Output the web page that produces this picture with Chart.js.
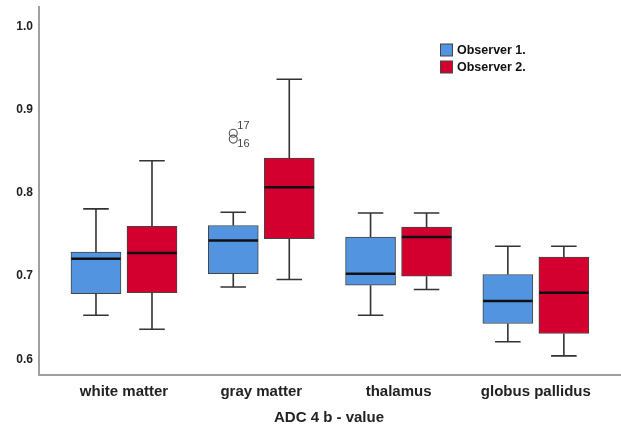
<!DOCTYPE html>
<html>
<head>
<meta charset="utf-8">
<script src="https://cdn.jsdelivr.net/npm/chart.js@4.4.0/dist/chart.umd.min.js"></script>
<style>
  html, body { margin: 0; padding: 0; background: #fff; }
  #wrap { width: 621px; height: 428px; position: relative; }
</style>
</head>
<body>
<div id="wrap"><canvas id="chart"></canvas></div>
<script>
const categories = ['white matter', 'gray matter', 'thalamus', 'globus pallidus'];
const seriesNames = ['Observer 1.', 'Observer 2.'];

// Observer 1.
const obs1Min = [0.653, 0.687, 0.653, 0.621];
const obs1Q1 = [0.679, 0.703, 0.689, 0.643];
const obs1Med = [0.721, 0.743, 0.703, 0.670];
const obs1Q3 = [0.729, 0.761, 0.747, 0.702];
const obs1Max = [0.781, 0.777, 0.776, 0.736];

// Observer 2.
const obs2Min = [0.636, 0.696, 0.684, 0.604];
const obs2Q1 = [0.680, 0.745, 0.700, 0.631];
const obs2Med = [0.728, 0.807, 0.747, 0.680];
const obs2Q3 = [0.760, 0.842, 0.759, 0.723];
const obs2Max = [0.839, 0.937, 0.776, 0.736];

// outliers (observer 1, gray matter)
const outlierCat = [1, 1];
const outlierVals = [0.872, 0.865];
const outlierIds = ['17', '16'];

const yTicks = [0.6, 0.7, 0.8, 0.9, 1.0];
const xTitle = 'ADC 4 b - value';

const blue = '#5394e1';
const red = '#d3002f';
const shift = 0.204;

const boxData = (q1, q3, off) => q1.map((v, i) => ({ x: i + off, y: [v, q3[i]] }));

const stats = [
  { min: obs1Min, med: obs1Med, max: obs1Max, q1: obs1Q1, q3: obs1Q3, off: -shift, color: blue },
  { min: obs2Min, med: obs2Med, max: obs2Max, q1: obs2Q1, q3: obs2Q3, off: shift, color: red }
];

const boxPlugin = {
  id: 'boxParts',
  afterDatasetsDraw(chart) {
    const { ctx, scales: { x, y } } = chart;
    ctx.save();

    // x axis line runs to the right edge
    ctx.strokeStyle = '#a0a0a0';
    ctx.lineWidth = 2;
    ctx.beginPath();
    ctx.moveTo(x.right - 1, y.bottom);
    ctx.lineTo(chart.width, y.bottom);
    ctx.stroke();

    stats.forEach(s => {
      s.min.forEach((mn, i) => {
        const cx = x.getPixelForValue(i + s.off);
        const half = x.getPixelForValue(i + s.off + 0.093) - cx;
        const bhalf = x.getPixelForValue(i + s.off + 0.18) - cx;
        ctx.strokeStyle = '#333';
        ctx.lineWidth = 1.6;
        ctx.beginPath();
        ctx.moveTo(cx, y.getPixelForValue(s.q3[i]));
        ctx.lineTo(cx, y.getPixelForValue(s.max[i]));
        ctx.moveTo(cx - half, y.getPixelForValue(s.max[i]));
        ctx.lineTo(cx + half, y.getPixelForValue(s.max[i]));
        ctx.moveTo(cx, y.getPixelForValue(s.q1[i]));
        ctx.lineTo(cx, y.getPixelForValue(mn));
        ctx.moveTo(cx - half, y.getPixelForValue(mn));
        ctx.lineTo(cx + half, y.getPixelForValue(mn));
        ctx.stroke();
        ctx.strokeStyle = '#111';
        ctx.lineWidth = 2.5;
        ctx.beginPath();
        ctx.moveTo(cx - bhalf, y.getPixelForValue(s.med[i]));
        ctx.lineTo(cx + bhalf, y.getPixelForValue(s.med[i]));
        ctx.stroke();
      });
    });

    // outlier labels
    ctx.fillStyle = '#444';
    ctx.font = '11px "Liberation Sans", Arial, sans-serif';
    ctx.textBaseline = 'middle';
    outlierVals.forEach((v, i) => {
      const px = x.getPixelForValue(outlierCat[i] - shift);
      const py = y.getPixelForValue(v);
      ctx.fillText(outlierIds[i], px + 4, py + (i === 0 ? -7 : 5));
    });

    // legend
    ctx.font = 'bold 12.5px "Liberation Sans", Arial, sans-serif';
    ctx.textBaseline = 'middle';
    [blue, red].forEach((c, i) => {
      const ly = 50 + i * 17;
      ctx.fillStyle = c;
      ctx.fillRect(440.5, ly - 6, 12, 12);
      ctx.strokeStyle = '#444';
      ctx.lineWidth = 1;
      ctx.strokeRect(440.5, ly - 6, 12, 12);
      ctx.fillStyle = '#111';
      ctx.fillText(seriesNames[i], 457, ly + 0.5);
    });

    // x title
    ctx.font = 'bold 15px "Liberation Sans", Arial, sans-serif';
    ctx.fillStyle = '#222';
    ctx.textAlign = 'center';
    ctx.fillText(xTitle, 329, 418);
    ctx.restore();
  }
};

new Chart(document.getElementById('chart'), {
  type: 'bar',
  data: {
    datasets: [
      {
        label: seriesNames[0],
        data: boxData(obs1Q1, obs1Q3, -shift),
        backgroundColor: blue,
        borderColor: '#444',
        borderWidth: 1,
        borderSkipped: false,
        barThickness: 50,
        grouped: false
      },
      {
        label: seriesNames[1],
        data: boxData(obs2Q1, obs2Q3, shift),
        backgroundColor: red,
        borderColor: '#444',
        borderWidth: 1,
        borderSkipped: false,
        barThickness: 50,
        grouped: false
      },
      {
        type: 'scatter',
        label: 'outliers',
        data: outlierVals.map((v, i) => ({ x: outlierCat[i] - shift, y: v })),
        pointStyle: 'circle',
        pointRadius: 4,
        borderColor: '#555',
        borderWidth: 1.1,
        backgroundColor: 'rgba(0,0,0,0)'
      }
    ]
  },
  options: {
    responsive: true,
    maintainAspectRatio: false,
    animation: false,
    layout: { padding: { top: 7, right: 0, left: 0, bottom: 0 } },
    plugins: {
      legend: { display: false },
      tooltip: { enabled: false }
    },
    scales: {
      x: {
        type: 'linear',
        offset: false,
        min: -0.619,
        max: 3.583,
        grid: { display: false, drawTicks: false },
        border: { display: true, color: '#a0a0a0', width: 2 },
        afterBuildTicks: s => { s.ticks = categories.map((c, i) => ({ value: i })); },
        afterFit: s => { s.height = 53; s.paddingLeft = 0; s.paddingRight = 0; },
        ticks: {
          padding: 8,
          color: '#222',
          font: { family: '"Liberation Sans", Arial, sans-serif', size: 15, weight: 'bold' },
          callback: v => categories[v]
        }
      },
      y: {
        min: 0.581,
        max: 1.024,
        grid: { display: false, drawTicks: false },
        border: { display: true, color: '#a0a0a0', width: 2 },
        afterBuildTicks: s => { s.ticks = yTicks.map(v => ({ value: v })); },
        afterFit: s => { s.width = 39; s.paddingTop = 0; s.paddingBottom = 0; },
        ticks: {
          padding: 6,
          color: '#222',
          font: { family: '"Liberation Sans", Arial, sans-serif', size: 12, weight: 'bold' },
          callback: v => Number(v).toFixed(1)
        }
      }
    }
  },
  plugins: [boxPlugin]
});
</script>
</body>
</html>
